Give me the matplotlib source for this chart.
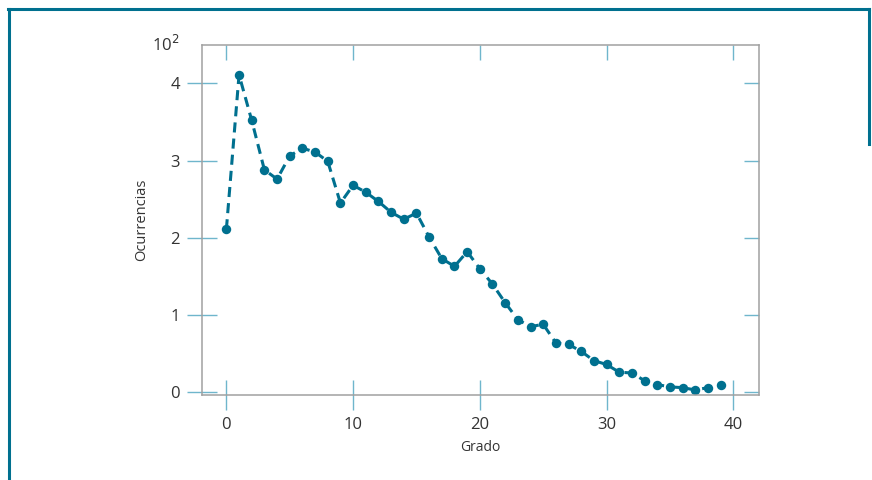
import matplotlib
matplotlib.use("Agg")
import matplotlib.pyplot as plt
from matplotlib.ticker import FuncFormatter, FixedLocator
from matplotlib.lines import Line2D

grado = list(range(40))
ocurrencias = [211, 411, 352, 288, 276, 306, 316, 311, 299, 245,
               268, 259, 247, 233, 224, 232, 201, 173, 163, 182,
               160, 140, 116, 94, 85, 88, 64, 62, 53, 41,
               36, 26, 25, 15, 10, 7, 6, 3, 6, 10]
xticks = [0, 10, 20, 30, 40]
yticks = [0, 100, 200, 300, 400]

plt.rcParams['font.family'] = ['Open Sans', 'DejaVu Sans']

teal = '#00708f'
tickc = '#6fb6cc'
spinec = '#a0a0a0'

fig = plt.figure(figsize=(8.72, 4.8), dpi=100)
ax = fig.add_axes([0.2317, 0.1771, 0.6387, 0.7298])

ax.plot(grado, ocurrencias, color=teal, lw=2.2, dashes=(3.3, 2.0),
        marker='o', markersize=6.8, markeredgewidth=0, markerfacecolor=teal)

ax.set_xlim(-1.92, 42.03)
ax.set_ylim(-3.5, 450)
ax.xaxis.set_major_locator(FixedLocator(xticks))
ax.yaxis.set_major_locator(FixedLocator(yticks))
ax.yaxis.set_major_formatter(FuncFormatter(lambda v, p: f"{v/100:g}"))

for s in ax.spines.values():
    s.set_color(spinec)
    s.set_linewidth(1.1)

ax.tick_params(which='major', direction='inout', length=21, width=1.0,
               color=tickc, labelsize=12, labelcolor='#333333', pad=5.5)

secx = ax.secondary_xaxis('top')
secx.xaxis.set_major_locator(FixedLocator(xticks))
secx.tick_params(direction='in', length=10.8, width=1.0, color=tickc,
                 labeltop=False)
secx.spines['top'].set_visible(False)
secy = ax.secondary_yaxis('right')
secy.yaxis.set_major_locator(FixedLocator(yticks))
secy.tick_params(direction='in', length=10.8, width=1.0, color=tickc,
                 labelright=False)
secy.spines['right'].set_visible(False)

ax.set_xlabel('Grado', fontsize=10, color='#333333', labelpad=5)
ax.set_ylabel('Ocurrencias', fontsize=10.5, color='#333333', labelpad=15)

fig.text(166 / 872, 1 - 45 / 480, '10$^2$', fontsize=12, color='#333333',
         ha='center', va='center')

# outer frame
fig.add_artist(Line2D([8.5 / 872, 8.5 / 872], [0, 1 - 8.5 / 480],
                      transform=fig.transFigure, color=teal, lw=2.2))
fig.add_artist(Line2D([7.5 / 872, 869 / 872], [1 - 8.5 / 480, 1 - 8.5 / 480],
                      transform=fig.transFigure, color=teal, lw=2.2))
fig.add_artist(Line2D([869 / 872, 869 / 872], [1 - 8.5 / 480, 0.7],
                      transform=fig.transFigure, color=teal, lw=2.2))

fig.savefig('out.png', dpi=100)
